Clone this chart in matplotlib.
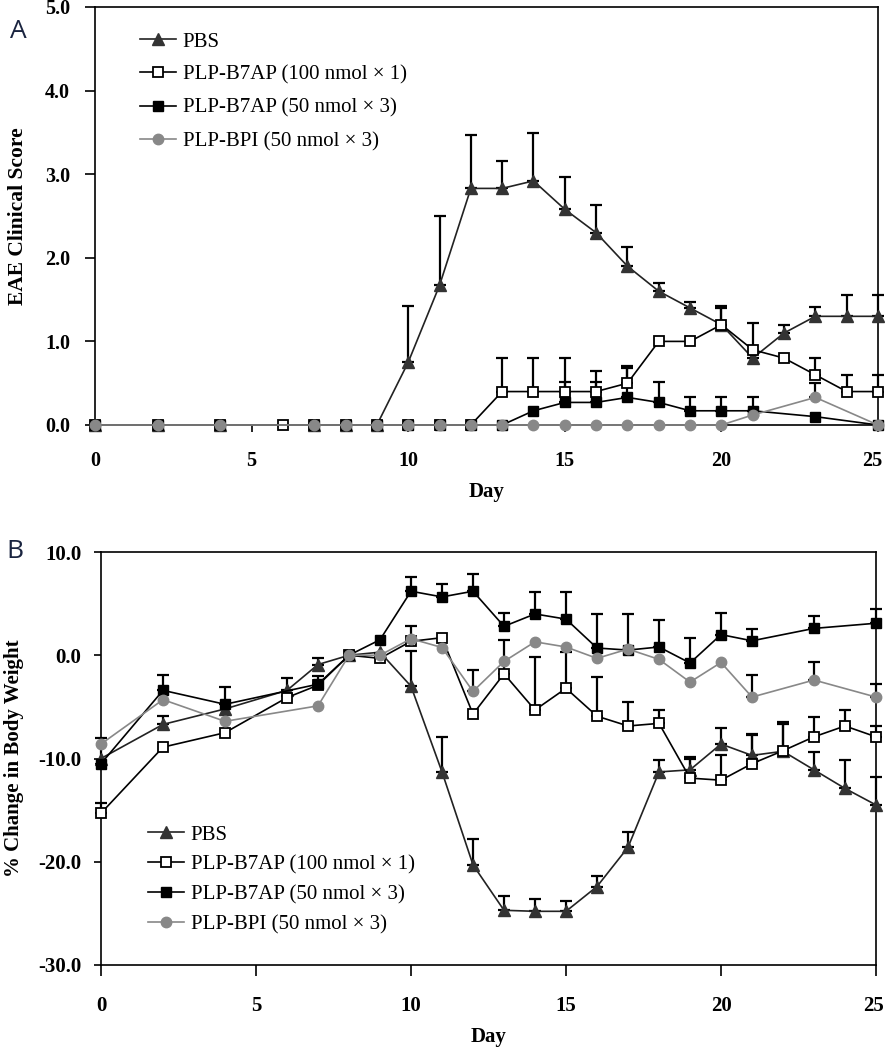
import numpy as np
import matplotlib
matplotlib.use("Agg")
import matplotlib.pyplot as plt
import matplotlib.transforms as mtransforms

plt.rcParams['font.family'] = ['Liberation Serif', 'DejaVu Serif']

# Panel A - EAE clinical score
pbs_a_dias = [0, 2, 4, 7, 8, 9, 10, 11, 12, 13, 14, 15, 16, 17, 18, 19, 20, 21, 22, 23, 24, 25]
pbs_a = [0, 0, 0, 0, 0, 0, 0.75, 1.67, 2.83, 2.83, 2.92, 2.58, 2.3, 1.9, 1.6, 1.4, 1.2, 0.8, 1.1, 1.3, 1.3, 1.3]
pbs_a_err = [0, 0, 0, 0, 0, 0, 0.67, 0.83, 0.64, 0.33, 0.57, 0.39, 0.33, 0.23, 0.1, 0.07, 0.22, 0.42, 0.1, 0.11, 0.25, 0.25]

b7_100_a_dias = [0, 2, 4, 6, 7, 8, 9, 10, 11, 12, 13, 14, 15, 16, 17, 18, 19, 20, 21, 22, 23, 24, 25]
b7_100_a = [0, 0, 0, 0, 0, 0, 0, 0, 0, 0, 0.4, 0.4, 0.4, 0.4, 0.5, 1.0, 1.0, 1.2, 0.9, 0.8, 0.6, 0.4, 0.4]
b7_100_a_err = [0, 0, 0, 0, 0, 0, 0, 0, 0, 0, 0.4, 0.4, 0.4, 0.25, 0.2, 0, 0, 0.2, 0, 0, 0.2, 0.2, 0.2]

b7_50_a_dias = [0, 2, 4, 7, 8, 9, 10, 11, 12, 13, 14, 15, 16, 17, 18, 19, 20, 21, 23, 25]
b7_50_a = [0, 0, 0, 0, 0, 0, 0, 0, 0, 0, 0.17, 0.27, 0.27, 0.33, 0.27, 0.17, 0.17, 0.17, 0.1, 0]
b7_50_a_err = [0, 0, 0, 0, 0, 0, 0, 0, 0, 0, 0, 0.25, 0.25, 0.35, 0.25, 0.16, 0.16, 0.16, 0, 0]

bpi_a_dias = [0, 2, 4, 7, 8, 9, 10, 11, 12, 13, 14, 15, 16, 17, 18, 19, 20, 21, 23, 25]
bpi_a = [0, 0, 0, 0, 0, 0, 0, 0, 0, 0, 0, 0, 0, 0, 0, 0, 0, 0.12, 0.33, 0]
bpi_a_err = [0, 0, 0, 0, 0, 0, 0, 0, 0, 0, 0, 0, 0, 0, 0, 0, 0, 0, 0.17, 0]

# Panel B - % cambio de peso
pbs_b_dias = [0, 2, 4, 6, 7, 8, 9, 10, 11, 12, 13, 14, 15, 16, 17, 18, 19, 20, 21, 22, 23, 24, 25]
pbs_b = [-10.0, -6.7, -5.2, -3.4, -0.9, 0, 0.3, -3.0, -11.3, -20.3, -24.7, -24.8, -24.8, -22.4, -18.6, -11.3, -11.1, -8.6, -9.7, -9.3, -11.1, -12.9, -14.5]
pbs_b_err = [0, 0.8, 0, 1.2, 0.6, 0, 0, 3.4, 3.4, 2.5, 1.4, 1.2, 1.0, 1.0, 1.5, 1.2, 1.2, 1.6, 2.1, 2.8, 1.75, 2.8, 2.7]

b7_100_b_dias = [0, 2, 4, 6, 7, 8, 9, 10, 11, 12, 13, 14, 15, 16, 17, 18, 19, 20, 21, 22, 23, 24, 25]
b7_100_b = [-15.3, -8.9, -7.5, -4.1, -2.9, 0, -0.3, 1.35, 1.7, -5.7, -1.8, -5.3, -3.2, -5.9, -6.85, -6.6, -11.9, -12.1, -10.5, -9.25, -7.9, -6.85, -7.9]
b7_100_b_err = [1.0, 0, 0, 0, 0, 0, 0, 0, 0, 0, 3.3, 5.1, 3.5, 3.8, 2.35, 1.3, 1.9, 2.4, 2.8, 2.6, 1.9, 1.55, 1.0]

b7_50_b_dias = [0, 2, 4, 7, 8, 9, 10, 11, 12, 13, 14, 15, 16, 17, 18, 19, 20, 21, 23, 25]
b7_50_b = [-10.5, -3.4, -4.75, -2.8, 0, 1.5, 6.2, 5.65, 6.2, 2.8, 4.0, 3.5, 0.7, 0.5, 0.8, -0.75, 2.0, 1.4, 2.6, 3.1]
b7_50_b_err = [2.5, 1.5, 1.65, 0.8, 0, 0, 1.4, 1.25, 1.7, 1.3, 2.1, 2.6, 3.3, 3.5, 2.6, 2.45, 2.1, 1.1, 1.2, 1.4]

bpi_b_dias = [0, 2, 4, 7, 8, 9, 10, 11, 12, 13, 14, 15, 16, 17, 18, 19, 20, 21, 23, 25]
bpi_b = [-8.6, -4.3, -6.4, -4.9, 0, 0, 1.6, 0.75, -3.5, -0.6, 1.3, 0.8, -0.3, 0.6, -0.4, -2.6, -0.7, -4.05, -2.4, -4.05]
bpi_b_err = [0, 0, 0, 0, 0, 0, 1.2, 0, 2.05, 0, 0, 0, 0, 0, 0, 0, 0, 2.15, 1.7, 1.25]

etiquetas = ['PBS', 'PLP-B7AP (100 nmol \u00d7 1)', 'PLP-B7AP (50 nmol \u00d7 3)', 'PLP-BPI (50 nmol \u00d7 3)']

estilos = [
    dict(marker='^', color='#222222', mfc='#333333', mec='#333333', ms=8.5),
    dict(marker='s', color='black', mfc='white', mec='black', ms=7, mew=1.3),
    dict(marker='s', color='black', mfc='black', mec='black', ms=7),
    dict(marker='o', color='#888888', mfc='#888888', mec='#888888', ms=7.5),
]


def dibujar(ax, series):
    for (dias, vals, err), est, lab in zip(series, estilos, etiquetas):
        dias = np.array(dias)
        vals = np.array(vals)
        err = np.array(err)
        m = err > 0
        ax.errorbar(dias[m], vals[m], yerr=[np.zeros(m.sum()), err[m]], fmt='none',
                    ecolor='black', elinewidth=1.6, capsize=4, capthick=1.6, zorder=2, clip_on=False)
        ax.plot(dias, vals, lw=1.2, label=lab, zorder=3, clip_on=False, **est)


fig = plt.figure(figsize=(8.85, 10.5), dpi=100)

# ---- A
ax1 = fig.add_axes([95/885, 1-425/1050, 783/885, 418/1050])
dibujar(ax1, [(pbs_a_dias, pbs_a, pbs_a_err), (b7_100_a_dias, b7_100_a, b7_100_a_err),
              (b7_50_a_dias, b7_50_a, b7_50_a_err), (bpi_a_dias, bpi_a, bpi_a_err)])
ax1.set_xlim(0, 25)
ax1.set_ylim(0, 5)
ax1.set_xticks([0, 5, 10, 15, 20, 25])
ax1.set_yticks([0, 1, 2, 3, 4, 5])
ax1.set_yticklabels(['0.0', '1.0', '2.0', '3.0', '4.0', '5.0'])
ax1.tick_params(axis='x', direction='out', length=5, width=1.2, pad=14, labelsize=14.5)
ax1.tick_params(axis='y', direction='out', length=7, width=1.2, pad=11, labelsize=14.5)
for lab in ax1.get_xticklabels() + ax1.get_yticklabels():
    lab.set_fontweight('bold')
# el ultimo "25" queda pegado al borde: moverlo un poco
ult = ax1.get_xticklabels()[-1]
ult.set_transform(ult.get_transform() + mtransforms.ScaledTranslation(-6/100, 0, fig.dpi_scale_trans))
ax1.set_xlabel('Day', fontsize=15, fontweight='bold', labelpad=8)
ax1.set_ylabel('EAE Clinical Score', fontsize=15.5, fontweight='bold', labelpad=12)
for s in ax1.spines.values():
    s.set_linewidth(1.2)
ax1.legend(loc='upper left', bbox_to_anchor=(0.0575, 0.94), frameon=False, fontsize=15,
           handlelength=1.75, handletextpad=0.3, labelspacing=0.65, borderpad=0, borderaxespad=0)
fig.text(18/885, 1-31/1050, 'A', fontsize=19, family='Open Sans', color='#1a2440', ha='center', va='center')

# ---- B
ax2 = fig.add_axes([101/885, 1-965/1050, 775/885, 413/1050])
dibujar(ax2, [(pbs_b_dias, pbs_b, pbs_b_err), (b7_100_b_dias, b7_100_b, b7_100_b_err),
              (b7_50_b_dias, b7_50_b, b7_50_b_err), (bpi_b_dias, bpi_b, bpi_b_err)])
ax2.set_xlim(0, 25)
ax2.set_ylim(-30, 10)
ax2.set_xticks([0, 5, 10, 15, 20, 25])
ax2.set_yticks([-30, -20, -10, 0, 10])
ax2.set_yticklabels(['-30.0', '-20.0', '-10.0', '0.0', '10.0'])
ax2.tick_params(axis='x', direction='out', length=8, width=1.2, pad=14, labelsize=15)
ax2.tick_params(axis='y', direction='out', length=5, width=1.2, pad=9, labelsize=15)
for lab in ax2.get_xticklabels() + ax2.get_yticklabels():
    lab.set_fontweight('bold')
ult2 = ax2.get_xticklabels()[-1]
ult2.set_transform(ult2.get_transform() + mtransforms.ScaledTranslation(-3/100, 0, fig.dpi_scale_trans))
ax2.set_xlabel('Day', fontsize=15, fontweight='bold', labelpad=8)
ax2.set_ylabel('% Change in Body Weight', fontsize=15, fontweight='bold', labelpad=10)
for s in ax2.spines.values():
    s.set_linewidth(1.2)
ax2.legend(loc='upper left', bbox_to_anchor=(0.0606, 0.339), frameon=False, fontsize=15,
           handlelength=1.75, handletextpad=0.3, labelspacing=0.5, borderpad=0, borderaxespad=0)
fig.text(15/885, 1-552/1050, 'B', fontsize=19, family='Open Sans', color='#1a2440', ha='center', va='center')

fig.savefig('out.png', dpi=100)
